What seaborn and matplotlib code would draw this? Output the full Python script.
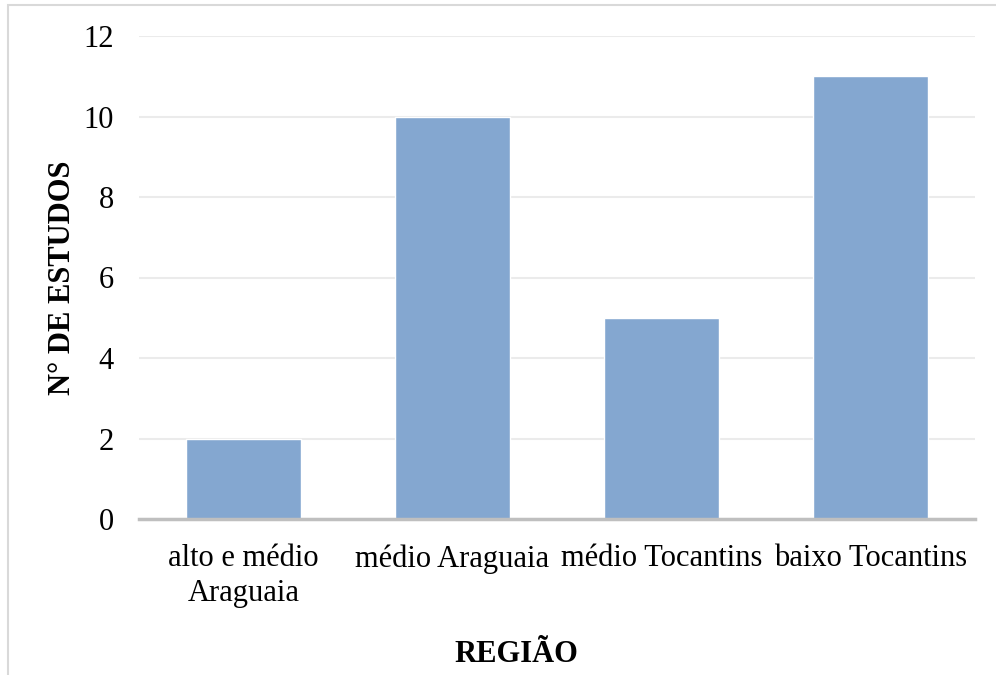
import matplotlib
matplotlib.use("Agg")
import matplotlib.pyplot as plt
import seaborn as sns
import pandas as pd
from matplotlib.patches import Rectangle

regioes = ["alto e médio\nAraguaia", "médio Araguaia", "médio Tocantins", "baixo Tocantins"]
estudos = [2, 10, 5, 11]
y_ticks = [0, 2, 4, 6, 8, 10, 12]

sns.set_theme(style="white")
plt.rcParams["font.family"] = ["Liberation Serif", "DejaVu Serif"]
plt.rcParams["text.color"] = "black"
plt.rcParams["xtick.color"] = "black"
plt.rcParams["ytick.color"] = "black"

df = pd.DataFrame({"regiao": regioes, "estudos": estudos})

fig = plt.figure(figsize=(9.96, 6.75), dpi=100)
ax = fig.add_axes([139 / 996, 1 - 519 / 675, (975 - 139) / 996, (519 - 36) / 675])

sns.barplot(data=df, x="regiao", y="estudos", color="#84A7D0", saturation=1,
            width=0.555, ax=ax, zorder=3)

ax.set_ylim(0, 12)
ax.set_xlim(-0.5, 3.5)
ax.set_yticks(y_ticks)
ax.set_yticklabels([str(t) for t in y_ticks], fontsize=22)
ax.tick_params(axis="y", length=0, pad=18)
ax.tick_params(axis="x", length=0, pad=18, labelsize=22)
for lbl in ax.get_xticklabels():
    lbl.set_linespacing(1.25)
ax.grid(axis="y", color="#EBEBEB", linewidth=1.5, zorder=0)
ax.set_axisbelow(True)
for side in ("top", "right", "left"):
    ax.spines[side].set_visible(False)
ax.spines["bottom"].set_color("#BFBFBF")
ax.spines["bottom"].set_linewidth(2.5)
ax.spines["bottom"].set_zorder(4)

ax.set_xlabel("")
ax.set_ylabel("")
fig.text(62 / 996, 1 - 278 / 675, "N° DE ESTUDOS", rotation=90, ha="center", va="center",
         fontsize=22, fontweight="bold")
fig.text(516 / 996, 1 - 655 / 675, "REGIÃO", ha="center", va="center",
         fontsize=22, fontweight="bold")

# outer chart frame (top and left edges visible)
fig.patches.append(Rectangle((8 / 996, -0.1), 1.2, 1 - 5 / 675 + 0.1, transform=fig.transFigure,
                             fill=False, edgecolor="#D9D9D9", linewidth=1.5, zorder=0))

fig.savefig("out.png", dpi=100, facecolor="white")
